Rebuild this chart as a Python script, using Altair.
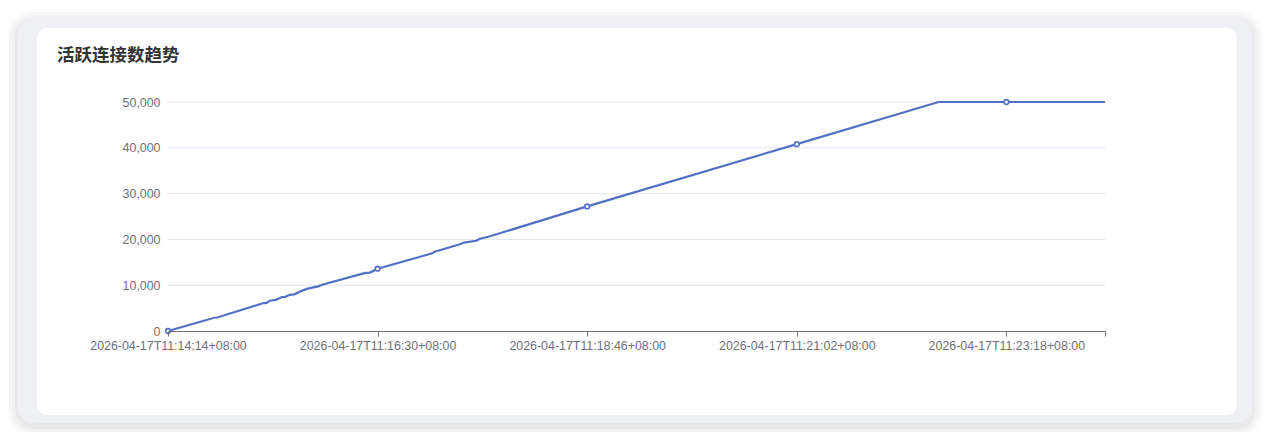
import altair as alt
import pandas as pd

# ---- data ----
seconds = [0, 30, 32, 62, 64, 66, 70, 74, 76, 79, 82, 85, 90, 98, 100, 128, 131, 136,
           171, 173, 190, 192, 200, 202, 209, 211, 272, 408, 500, 544, 608]
conns = [0, 2900, 2950, 6100, 6150, 6600, 6800, 7400, 7450, 7900, 8000, 8500, 9200, 9800,
         10100, 12700, 12750, 13600, 16900, 17300, 19000, 19300, 19700, 20100, 20700, 20900,
         27200, 40800, 50000, 50000, 50000]

marker_seconds = [0, 136, 272, 408, 544]
marker_conns = [0, 13600, 27200, 40800, 50000]

tick_seconds = [0, 136, 272, 408, 544, 608]
tick_labels = ["2026-04-17T11:14:14+08:00", "2026-04-17T11:16:30+08:00",
               "2026-04-17T11:18:46+08:00", "2026-04-17T11:21:02+08:00",
               "2026-04-17T11:23:18+08:00", ""]

y_ticks = [0, 10000, 20000, 30000, 40000, 50000]
title_text = "活跃连接数趋势"

W, H = 937, 229
LINE = "#5470c6"
AXIS = "#6e7079"
FONT = "Liberation Sans"

line_df = pd.DataFrame({"s": seconds, "v": conns})
mark_df = pd.DataFrame({"s": marker_seconds, "v": marker_conns})
grid_df = pd.DataFrame({"v": y_ticks[1:]})
one = pd.DataFrame({"k": [0]})

label_expr = ""
for s, lab in zip(tick_seconds, tick_labels):
    label_expr += f"datum.value === {s} ? '{lab}' : "
label_expr += "''"

xscale = alt.Scale(domain=[0, 608], nice=False, zero=False)
yscale = alt.Scale(domain=[0, 50000], nice=False)

xaxis = alt.Axis(values=tick_seconds, labelExpr=label_expr, title=None, grid=False,
                 domainColor=AXIS, tickColor=AXIS, tickSize=5, labelColor=AXIS,
                 labelFontSize=12.4, labelFont=FONT, labelPadding=3, labelFlush=False,
                 labelOverlap=False, zindex=1)
yaxis = alt.Axis(values=y_ticks, labelExpr="format(datum.value, ',.0f')", title=None,
                 grid=False, domain=False,
                 ticks=False, labelColor=AXIS, labelFontSize=12.4, labelFont=FONT,
                 labelPadding=8, zindex=1)

# card background + shadow
layers = []
for i, op in [(12, 0.012), (9, 0.018), (6, 0.022), (3, 0.03)]:
    layers.append(
        alt.Chart(one).mark_rect(color="black", opacity=op, cornerRadius=16 + i).encode(
            x=alt.value(-150 - i), x2=alt.value(1084 + i),
            y=alt.value(-84 - i + 3), y2=alt.value(321 + i + 3))
    )
layers.append(alt.Chart(one).mark_rect(color="#eef0f4", cornerRadius=16).encode(
    x=alt.value(-150), x2=alt.value(1084), y=alt.value(-84), y2=alt.value(321)))
layers.append(alt.Chart(one).mark_rect(color="#ffffff", cornerRadius=10).encode(
    x=alt.value(-131), x2=alt.value(1069), y=alt.value(-74), y2=alt.value(313)))

title = alt.Chart(one).mark_text(
    text=title_text, align="left", baseline="middle", fontSize=17.5, fontWeight="bold",
    font="Noto Sans CJK SC", color="#333333").encode(x=alt.value(-111), y=alt.value(-46))

grid = alt.Chart(grid_df).mark_rule(color="#e0e6f1", strokeWidth=1).encode(
    y=alt.Y("v:Q", scale=yscale, axis=yaxis), x=alt.value(0), x2=alt.value(W))

line = alt.Chart(line_df).mark_line(color=LINE, strokeWidth=2.2).encode(
    x=alt.X("s:Q", scale=xscale, axis=xaxis),
    y=alt.Y("v:Q", scale=yscale, axis=yaxis))

pts = alt.Chart(mark_df).mark_point(shape="circle", filled=True, fill="white", stroke=LINE,
                                    strokeWidth=1.6, size=22, opacity=1).encode(
    x=alt.X("s:Q", scale=xscale, axis=xaxis), y=alt.Y("v:Q", scale=yscale, axis=yaxis))

chart = alt.layer(*layers, title, grid, line, pts).properties(
    width=W, height=H,
    autosize=alt.AutoSizeParams(type="none"),
    padding={"left": 160, "top": 94, "right": 157, "bottom": 101},
    background="white",
).configure_view(stroke=None)

chart.save("out.html", embed_options={"renderer": "svg", "actions": False})
